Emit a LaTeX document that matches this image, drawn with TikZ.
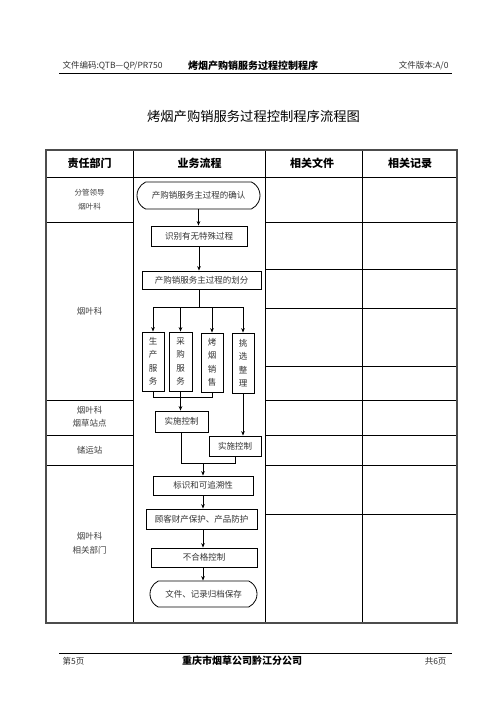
\documentclass[tikz,border=0pt]{standalone}
\usepackage{fontspec}
\setmainfont{Noto Sans CJK SC}
\usetikzlibrary{shapes.misc,arrows.meta}
\tikzset{
 body/.style={font=\fontsize{8.5}{13.5}\selectfont, text=black!80},
 fbox/.style={draw, line width=0.8pt, inner sep=0pt, body},
 vbox/.style={fbox, align=center},
 term/.style={rounded rectangle, rounded rectangle arc length=130, draw, line width=0.8pt, inner sep=0pt, body},
 arr/.style={-{Stealth[length=4.5pt,width=3.6pt]}, line width=0.8pt},
 ln/.style={line width=0.8pt},
 tline/.style={line width=0.7pt},
 dept/.style={font=\fontsize{8.5}{13.5}\selectfont, text=black!75, align=center},
 head/.style={font=\fontsize{11}{13}\selectfont\bfseries},
 small/.style={font=\fontsize{8.5}{10}\selectfont, text=black!80},
}
\begin{document}
\begin{tikzpicture}[x=1pt,y=-1pt]
\useasboundingbox (0,0) rectangle (496,702);
\fill[white] (0,0) rectangle (496,702);

% page header
\node[small, anchor=west] (hl) at (59,66) {文件编码:QTB—QP/PR750};
\node[font=\fontsize{10}{12}\selectfont\bfseries] (ht) at (253,66) {烤烟产购销服务过程控制程序};
\node[small, anchor=east] (hr) at (452,66) {文件版本:A/0};
\draw[line width=1pt] (59,73) -- (452,73);

% title
\node[font=\fontsize{13.3}{15}\selectfont] (title) at (253.5,116) {烤烟产购销服务过程控制程序流程图};

% table
\draw[tline] (46,177) -- (457,177);
\foreach \y in {222,400,435,465} {\draw[tline] (46,\y) -- (133,\y);}
\foreach \y in {222,269,308,366,400,435,465,514} {\draw[tline] (265,\y) -- (457,\y);}
\foreach \x in {133,265,362} {\draw[tline] (\x,150) -- (\x,623);}
\draw[line width=1.8pt, black!70] (46,150) rectangle (457,623);

\node[head] (h1) at (89.5,163.5) {责任部门};
\node[head] (h2) at (199.5,163.5) {业务流程};
\node[head] (h3) at (312,163.5) {相关文件};
\node[head] (h4) at (410,163.5) {相关记录};

% departments
\node[dept, font=\fontsize{7.5}{14}\selectfont] (d1) at (89.5,200) {分管领导\\烟叶科};
\node[dept] (d2) at (89.5,311) {烟叶科};
\node[dept] (d3) at (89.5,417) {烟叶科\\烟草站点};
\node[dept] (d4) at (89.5,450) {储运站};
\node[dept] (d5) at (89.5,543.5) {烟叶科\\相关部门};

% flow nodes
\node[term, minimum width=123pt, minimum height=27pt] (e1) at (198.5,195.5) {产购销服务主过程的确认};
\node[fbox, minimum width=96pt, minimum height=20pt] (b1) at (199,236) {识别有无特殊过程};
\node[fbox, minimum width=119pt, minimum height=18pt] (b2) at (201.5,280) {产购销服务主过程的划分};
\node[vbox, minimum width=22pt, minimum height=59pt] (v1) at (153,361.5) {生\\产\\服\\务};
\node[vbox, minimum width=23pt, minimum height=59pt] (v2) at (180.5,361.5) {采\\购\\服\\务};
\node[vbox, minimum width=22pt, minimum height=59pt] (v3) at (212,362.5) {烤\\烟\\销\\售};
\node[vbox, minimum width=22pt, minimum height=60pt] (v4) at (243,363) {挑\\选\\整\\理};
\node[fbox, minimum width=53pt, minimum height=21pt] (c1) at (181.5,421.5) {实施控制};
\node[fbox, minimum width=52pt, minimum height=20pt] (c2) at (235,446) {实施控制};
\node[fbox, minimum width=100pt, minimum height=19pt] (m1) at (203,485.5) {标识和可追溯性};
\node[fbox, minimum width=111pt, minimum height=20pt] (m2) at (201.5,519) {顾客财产保护、产品防护};
\node[fbox, minimum width=106pt, minimum height=19pt] (m3) at (204,557.5) {不合格控制};
\node[term, minimum width=107pt, minimum height=26pt] (e2) at (203.5,594) {文件、记录归档保存};

% connectors
\coordinate (j1) at (199.5,307);
\coordinate (j2) at (182,397);
\coordinate (j3) at (203,463);
\draw[arr] (e1.south) -- (e1.south |- b1.north);
\draw[arr] (b1.south) -- (b1.south |- b2.north);
\draw[ln] (b2.south -| j1) -- (j1);
\draw[ln] (v1.north |- j1) -- (v4.north |- j1);
\foreach \v in {v1,v2,v3,v4} {\draw[arr] (\v.north |- j1) -- (\v.north);}
\draw[ln] (v1.south) -- (v1.south |- j2) -- (v3.south |- j2) -- (v3.south);
\draw[arr] (v2.south) -- (v2.south |- c1.north);
\draw[arr] (v4.south) -- (v4.south |- c2.north);
\draw[ln] (c1.south) -- (c1.south |- j3) -- (c2.south |- j3) -- (c2.south);
\draw[arr] (j3) -- (j3 |- m1.north);
\draw[arr] (m1.south) -- (m1.south |- m2.north);
\draw[arr] (m2.south -| m1.south) -- (m1.south |- m3.north);
\draw[arr] (m3.south -| m1.south) -- (m1.south |- e2.north);

% page footer
\draw[line width=1pt] (59,653) -- (452,653);
\node[small, anchor=west] (fl) at (59,661) {第5页};
\node[font=\fontsize{10}{12}\selectfont\bfseries] (fc) at (242,661) {重庆市烟草公司黔江分公司};
\node[small, anchor=east] (fr) at (450,661) {共6页};
\end{tikzpicture}
\end{document}
